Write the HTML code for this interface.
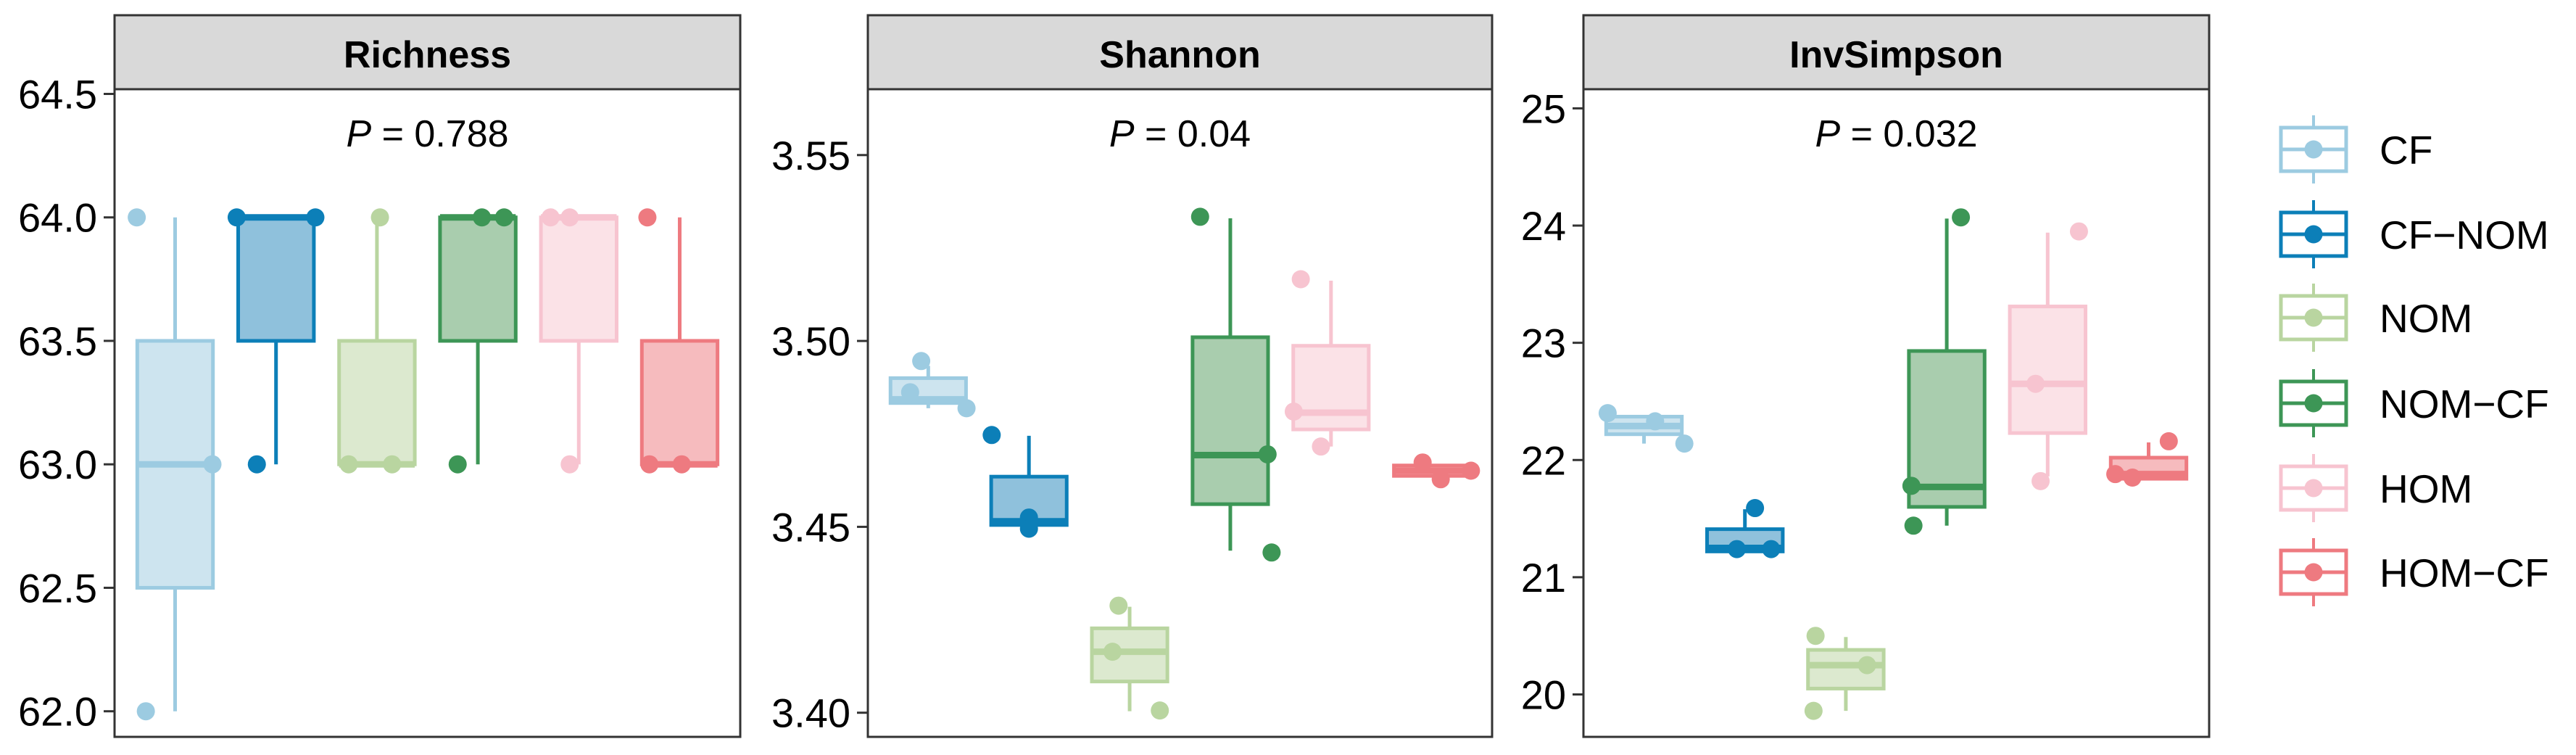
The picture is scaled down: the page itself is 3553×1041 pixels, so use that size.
<!DOCTYPE html>
<html><head><meta charset="utf-8">
<style>
html,body{margin:0;padding:0;background:#fff;}
svg{display:block;font-family:"Liberation Sans",Arial,sans-serif;}
</style></head>
<body>
<svg id="chart" width="3553" height="1041" viewBox="0 0 3553 1041" xmlns="http://www.w3.org/2000/svg"></svg>
<script>
const groups = ["CF","CF-NOM","NOM","NOM-CF","HOM","HOM-CF"];
const colors = ["#9ccbe1","#0c7fb8","#b9d5a0","#3d9656","#f7c4d0","#ee7a80"];
const fills  = ["#cde4ef","#8fc1dc","#dce9cf","#a9cdae","#fbe2e7","#f6bbbe"];

const panelTitles = ["Richness","Shannon","InvSimpson"];
const pLabels = ["0.788","0.04","0.032"];

const richTicks = [62.0,62.5,63.0,63.5,64.0,64.5];
const richTickLabels = ["62.0","62.5","63.0","63.5","64.0","64.5"];
const shanTicks = [3.40,3.45,3.50,3.55];
const shanTickLabels = ["3.40","3.45","3.50","3.55"];
const invTicks = [20,21,22,23,24,25];
const invTickLabels = ["20","21","22","23","24","25"];

// box stats: [whiskerLow, q1, median, q3, whiskerHigh]
const richBoxes = [[62,62.5,63,63.5,64],[63,63.5,64,64,64],[63,63,63,63.5,64],[63,63.5,64,64,64],[63,63.5,64,64,64],[63,63,63,63.5,64]];
const richPoints = [[64,63,62],[64,64,63],[64,63,63],[63,64,64],[64,64,63],[64,63,63]];
const richJitter = [[-0.38,0.37,-0.29],[-0.39,0.39,-0.19],[0.03,-0.28,0.15],[-0.2,0.04,0.26],[-0.28,-0.09,-0.09],[-0.32,-0.30,0.02]];

const shanBoxes = [[3.4819,3.4833,3.4843,3.490,3.4933],[3.4505,3.4505,3.4515,3.4635,3.4745],[3.4004,3.4084,3.4164,3.4227,3.4285],[3.4436,3.4561,3.4693,3.501,3.533],[3.4716,3.4762,3.4807,3.4987,3.5162],[3.4635,3.4637,3.4651,3.4665,3.4668]];
const shanPoints = [[3.4946,3.4862,3.4819],[3.4747,3.4525,3.4495],[3.4288,3.4164,3.4006],[3.5334,3.4695,3.4431],[3.5166,3.481,3.4716],[3.4673,3.4628,3.4651]];
const shanJitter = [[-0.07,-0.18,0.38],[-0.37,0,0],[-0.11,-0.17,0.3],[-0.3,0.37,0.41],[-0.30,-0.37,-0.1],[-0.09,0.09,0.39]];

const invBoxes = [[22.14,22.22,22.29,22.37,22.38],[21.22,21.22,21.25,21.41,21.58],[19.86,20.05,20.25,20.38,20.49],[21.44,21.60,21.77,22.93,24.06],[21.86,22.23,22.65,23.31,23.94],[21.84,21.84,21.88,22.02,22.15]];
const invPoints = [[22.40,22.33,22.14],[21.59,21.24,21.24],[20.50,20.25,19.86],[24.07,21.78,21.44],[23.95,22.65,21.82],[22.16,21.88,21.85]];
const invJitter = [[-0.36,0.11,0.40],[0.10,-0.08,0.26],[-0.30,0.21,-0.32],[0.14,-0.35,-0.33],[0.31,-0.12,-0.07],[0.20,-0.33,-0.16]];

const svg = document.getElementById('chart');
const NS = "http://www.w3.org/2000/svg";
function mk(tag, attrs, parent){ const e=document.createElementNS(NS,tag); for(const k in attrs) e.setAttribute(k,attrs[k]); (parent||svg).appendChild(e); return e; }

const panels = [
 {x0:158,x1:1021, ticks:richTicks, labels:richTickLabels, boxes:richBoxes, pts:richPoints, jit:richJitter, vA:64.5, yA:129.5, vB:62.0, yB:980.7},
 {x0:1197,x1:2058, ticks:shanTicks, labels:shanTickLabels, boxes:shanBoxes, pts:shanPoints, jit:shanJitter, vA:3.55, yA:213.8, vB:3.40, yB:982.7},
 {x0:2184,x1:3047, ticks:invTicks, labels:invTickLabels, boxes:invBoxes, pts:invPoints, jit:invJitter, vA:25, yA:149.4, vB:20, yB:957.5}
];
const stripTop=21, stripBot=123, panelBot=1016;

panels.forEach((p,pi)=>{
  const g = mk('g',{});
  
  
  const yS = v => p.yA + (p.vA - v)*(p.yB-p.yA)/(p.vA-p.vB);
  const unit = (p.x1-p.x0)/6.2;
  const xS = i => p.x0 + (0.6 + i)*unit;
  const strip = mk('rect',{x:p.x0,y:stripTop,width:p.x1-p.x0,height:stripBot-stripTop,fill:'#d9d9d9',stroke:'#333',"stroke-width":3},g);
  
  
  const st = mk('text',{x:(p.x0+p.x1)/2,y:93,"text-anchor":"middle","font-size":52,"font-weight":"bold",fill:'#000'},g);
  st.textContent = panelTitles[pi];
  
  
  const pr = mk('rect',{x:p.x0,y:stripBot,width:p.x1-p.x0,height:panelBot-stripBot,fill:'#fff',stroke:'#333',"stroke-width":3},g);
  
  
  p.ticks.forEach((t,ti)=>{
    const y=yS(t);
    const tl = mk('line',{x1:p.x0-15,x2:p.x0,y1:y,y2:y,stroke:'#333',"stroke-width":3},g);
    
    
    const tx = mk('text',{x:p.x0-24,y:y+20,"text-anchor":"end","font-size":56,fill:'#000'},g);
    tx.textContent = p.labels[ti];
    
    
  });
  const pt = mk('text',{x:(p.x0+p.x1)/2,y:202,"text-anchor":"middle","font-size":52,fill:'#000'},g);
  pt.innerHTML = '<tspan font-style="italic">P</tspan> = '+pLabels[pi];
  
  
  p.boxes.forEach((b,i)=>{
    const cx=xS(i), hw=0.375*unit, c=colors[i];
    const bg = mk('g',{},g);
    
    
    mk('line',{x1:cx,x2:cx,y1:yS(b[4]),y2:yS(b[3]),stroke:c,"stroke-width":5},bg);
    mk('line',{x1:cx,x2:cx,y1:yS(b[1]),y2:yS(b[0]),stroke:c,"stroke-width":5},bg);
    mk('rect',{x:cx-hw,y:yS(b[3]),width:2*hw,height:Math.max(0.5,yS(b[1])-yS(b[3])),fill:fills[i],stroke:c,"stroke-width":5},bg);
    mk('line',{x1:cx-hw,x2:cx+hw,y1:yS(b[2]),y2:yS(b[2]),stroke:c,"stroke-width":9},bg);
    p.pts[i].forEach((v,k)=>{
      const d = mk('circle',{cx:cx+p.jit[i][k]*unit,cy:yS(v),r:12.5,fill:c},bg);
      
      
    });
  });
});

const legCY = [206,323,438,556,673,789];
groups.forEach((gname,i)=>{
  const lg = mk('g',{});
  
  
  const cy=legCY[i], cx=3191, c=colors[i];
  mk('line',{x1:cx,x2:cx,y1:cy-47,y2:cy+47,stroke:c,"stroke-width":4},lg);
  mk('rect',{x:3146,y:cy-30,width:90,height:60,fill:'#fff',stroke:c,"stroke-width":5},lg);
  mk('line',{x1:3146,x2:3236,y1:cy,y2:cy,stroke:c,"stroke-width":5},lg);
  mk('circle',{cx:cx,cy:cy,r:12.5,fill:c},lg);
  const t = mk('text',{x:3282,y:cy+20,"font-size":55,fill:'#000'},lg);
  t.textContent = gname.replace('-','\u2212');
});
</script>
</body></html>
